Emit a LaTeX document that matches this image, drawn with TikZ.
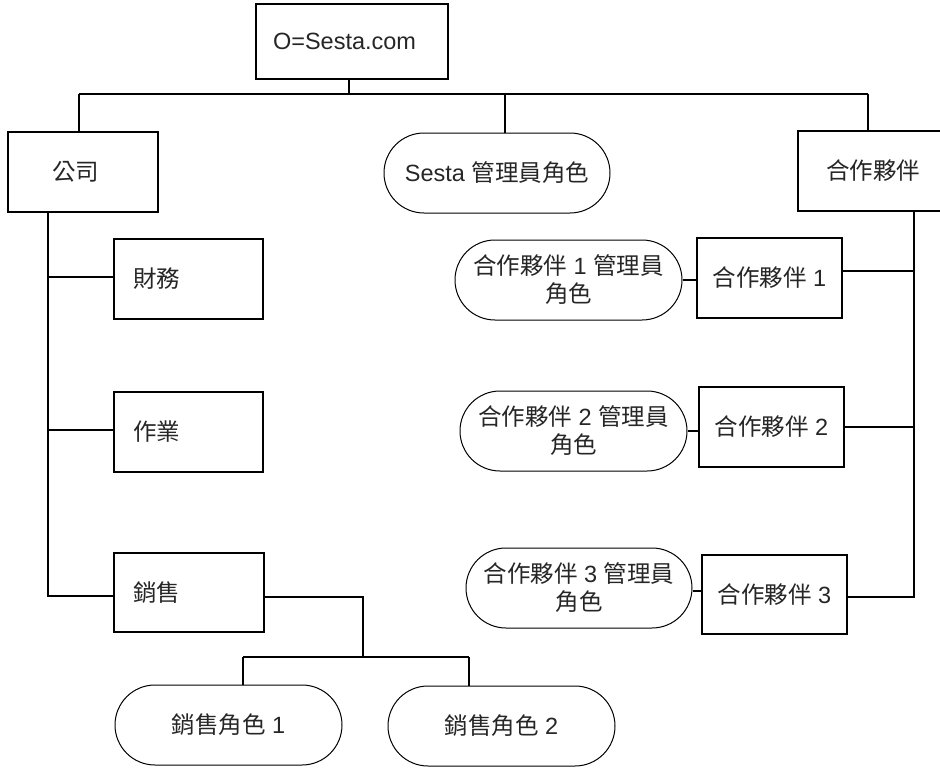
\documentclass[tikz,border=0pt]{standalone}
\usepackage{fontspec}
\setmainfont{Liberation Sans}
\newfontfamily\zhfont{Noto Sans CJK TC}
\newcommand\zh[1]{{\zhfont #1}}
\tikzset{
  base/.style={font=\fontsize{23.5}{28}\selectfont, inner ysep=0pt, text=black!85},
  box/.style={base, draw, line width=1.5pt, minimum height=80pt, align=center, inner xsep=0pt},
  lbox/.style={base, draw, line width=1.5pt, minimum height=80pt, align=left},
  role/.style={base, draw, line width=1pt, rounded corners=40pt, minimum height=80pt, minimum width=227pt, align=center, inner xsep=0pt},
  conn/.style={line width=1.5pt}
}
\begin{document}
\begin{tikzpicture}[x=1pt,y=-1pt]
\useasboundingbox (0,0) rectangle (940,768);
% top
\node[lbox, minimum height=75pt, inner xsep=17pt, text width=158pt] (top) at (352,41.5) {O=Sesta.com};
% level 1
\node[lbox, inner xsep=44pt, text width=62pt] (corp) at (83,172) {\zh{公司}};
\node[role, minimum width=226pt] (sesta) at (497,173) {Sesta \zh{管理員角色}};
\node[box, minimum width=150pt] (partner) at (873,171) {\zh{合作夥伴}};
% left column
\node[lbox, inner xsep=19pt, text width=111pt] (fin) at (188.5,279) {\zh{財務}};
\node[lbox, inner xsep=19pt, text width=111pt] (ops) at (188.5,432) {\zh{作業}};
\node[lbox, inner xsep=19pt, text width=112pt, minimum height=79pt] (sales) at (189,592.5) {\zh{銷售}};
% sales roles
\node[role] (s1) at (228.5,725) {\zh{銷售角色} 1};
\node[role] (s2) at (501.5,726) {\zh{銷售角色} 2};
% partners
\node[box, minimum width=145pt] (p1) at (769.5,278) {\zh{合作夥伴} 1};
\node[box, minimum width=145pt] (p2) at (771.5,427) {\zh{合作夥伴} 2};
\node[box, minimum width=145pt, minimum height=79pt] (p3) at (774.5,594.5) {\zh{合作夥伴} 3};
\node[role] (r1) at (568.5,280) {\zh{合作夥伴} 1 \zh{管理員}\\\zh{角色}};
\node[role] (r2) at (573.5,431) {\zh{合作夥伴} 2 \zh{管理員}\\\zh{角色}};
\node[role, minimum width=226pt] (r3) at (579,588) {\zh{合作夥伴} 3 \zh{管理員}\\\zh{角色}};
% coordinates
\coordinate (busL) at (79,94);
\coordinate (busS) at (505,94);
\coordinate (busR) at (868,94);
\coordinate (trL) at (48,596);
\coordinate (trR) at (914,597);
\coordinate (sj) at (363,657);
\coordinate (sL) at (243,657);
\coordinate (sR) at (469,657);
% top bus
\draw[conn] ([xshift=-3pt]top.south) -- ([xshift=-3pt]top.south |- busL);
\draw[conn] (busL) -- (busR);
\draw[conn] (busL) -- (busL |- corp.north);
\draw[conn] (busS) -- (busS |- sesta.north);
\draw[conn] (busR) -- (busR |- partner.north);
% left trunk
\draw[conn] (corp.south -| trL) -- (trL) -- (trL -| sales.west);
\draw[conn] ([yshift=2pt]fin.west) -- ([yshift=2pt]fin.west -| trL);
\draw[conn] ([yshift=2pt]ops.west) -- ([yshift=2pt]ops.west -| trL);
% sales roles
\draw[conn] ([yshift=-4.5pt]sales.east) -| (sj);
\draw[conn] (sL) -- (sR);
\draw[conn] (sL) -- (sL |- s1.north);
\draw[conn] (sR) -- (sR |- s2.north);
% right trunk
\draw[conn] (partner.south -| trR) -- (trR) -- (trR -| p3.east);
\draw[conn] ([yshift=7pt]p1.east) -- ([yshift=7pt]p1.east -| trR);
\draw[conn] (p2.east) -- (p2.east -| trR);
\draw[conn] (r1.east) -- (r1.east -| p1.west);
\draw[conn] (r2.east) -- (r2.east -| p2.west);
\draw[conn] ([yshift=-3pt]r3.east) -- ([yshift=-3pt]r3.east -| p3.west);
\end{tikzpicture}
\end{document}
